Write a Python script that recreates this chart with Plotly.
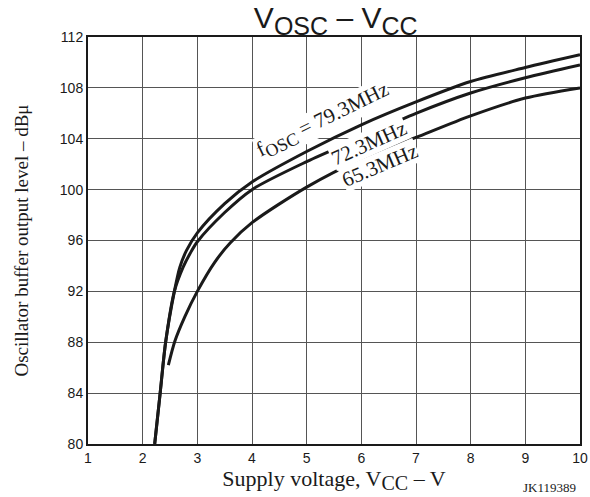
import plotly.graph_objects as go

# curve data (Vcc in V, level in dBu)
vcc_79 = [2.22, 2.32, 2.42, 2.58, 2.68, 2.80, 3.0, 3.5, 4.0, 5.0, 6.0, 7.0, 8.0, 9.0, 10.0]
lvl_79 = [80.0, 84.0, 88.0, 92.0, 93.9, 95.2, 96.6, 98.9, 100.6, 103.0, 105.1, 106.9, 108.5, 109.6, 110.6]

vcc_72 = [2.22, 2.32, 2.42, 2.58, 2.74, 2.87, 3.0, 3.5, 4.0, 5.0, 6.0, 7.0, 8.0, 9.0, 10.0]
lvl_72 = [80.0, 84.0, 88.0, 92.0, 93.9, 95.0, 95.9, 98.2, 100.0, 102.2, 104.1, 106.0, 107.6, 108.8, 109.8]

vcc_65 = [2.47, 2.59, 2.77, 3.0, 3.32, 3.6, 4.0, 5.0, 6.0, 7.0, 8.0, 9.0, 10.0]
lvl_65 = [86.2, 88.1, 90.0, 92.0, 94.3, 95.8, 97.4, 100.2, 102.4, 104.1, 105.8, 107.2, 108.0]

x_ticks = [1, 2, 3, 4, 5, 6, 7, 8, 9, 10]
y_ticks = [80, 84, 88, 92, 96, 100, 104, 108, 112]

curve_labels = ["f<sub><span style='font-size:18px'>OSC</span></sub> = 79.3MHz", "72.3MHz", "65.3MHz"]
label_x = [5.30, 6.14, 6.35]
label_y = [105.4, 103.65, 101.9]
label_angle = [-26, -24, -23]

fig = go.Figure()
for xs, ys in [(vcc_79, lvl_79), (vcc_72, lvl_72), (vcc_65, lvl_65)]:
    fig.add_trace(go.Scatter(x=xs, y=ys, mode='lines',
                             line=dict(color='#1a1a1a', width=3, shape='spline', smoothing=0.8),
                             showlegend=False, hoverinfo='skip'))

for txt, lx, ly, ang in zip(curve_labels, label_x, label_y, label_angle):
    fig.add_annotation(x=lx, y=ly, text=txt, showarrow=False, textangle=ang,
                       font=dict(family='Liberation Serif', size=21, color='#1a1a1a'),
                       bgcolor='white', borderpad=0)

fig.add_annotation(x=1.0, y=0, xref='paper', yref='paper', xshift=-2, yshift=-43,
                   xanchor='right', yanchor='middle', text='JK119389', showarrow=False,
                   font=dict(family='Liberation Serif', size=13, color='#1a1a1a'))

fig.update_layout(
    width=590, height=497,
    margin=dict(l=88, r=10, t=37, b=53),
    plot_bgcolor='white', paper_bgcolor='white',
    title=dict(text="V<sub><span style='font-size:25px'>OSC</span></sub> – V<sub><span style='font-size:25px'>CC</span></sub>",
               x=0.569, xanchor='center', y=0.964, yanchor='middle',
               font=dict(family='Liberation Sans', size=30, color='#1a1a1a')),
)
fig.update_xaxes(range=[1, 10], tickvals=x_ticks, showgrid=True, gridcolor='#555555', gridwidth=1,
                 showline=True, linecolor='#1a1a1a', linewidth=2, mirror=True, ticks='', zeroline=False,
                 automargin=False, ticklabeloverflow='allow',
                 tickfont=dict(family='Liberation Sans', size=14, color='#1a1a1a'),
                 title=dict(text="Supply voltage, V<sub><span style='font-size:20px'>CC</span></sub> – V", standoff=2,
                            font=dict(family='Liberation Serif', size=22, color='#1a1a1a')))
fig.update_yaxes(range=[80, 112], tickvals=y_ticks, showgrid=True, gridcolor='#555555', gridwidth=1,
                 showline=True, linecolor='#1a1a1a', linewidth=2, mirror=True, ticks='', zeroline=False,
                 automargin=False,
                 tickfont=dict(family='Liberation Sans', size=14, color='#1a1a1a'),
                 title=dict(text='Oscillator buffer output level – dBμ', standoff=26,
                            font=dict(family='Liberation Serif', size=19, color='#1a1a1a')))

# drop the page's default body margin so the figure fills the window exactly
fig.write_html("out.html", config={'displayModeBar': False},
               post_script="document.body.style.margin='0';document.body.style.overflow='hidden';")
